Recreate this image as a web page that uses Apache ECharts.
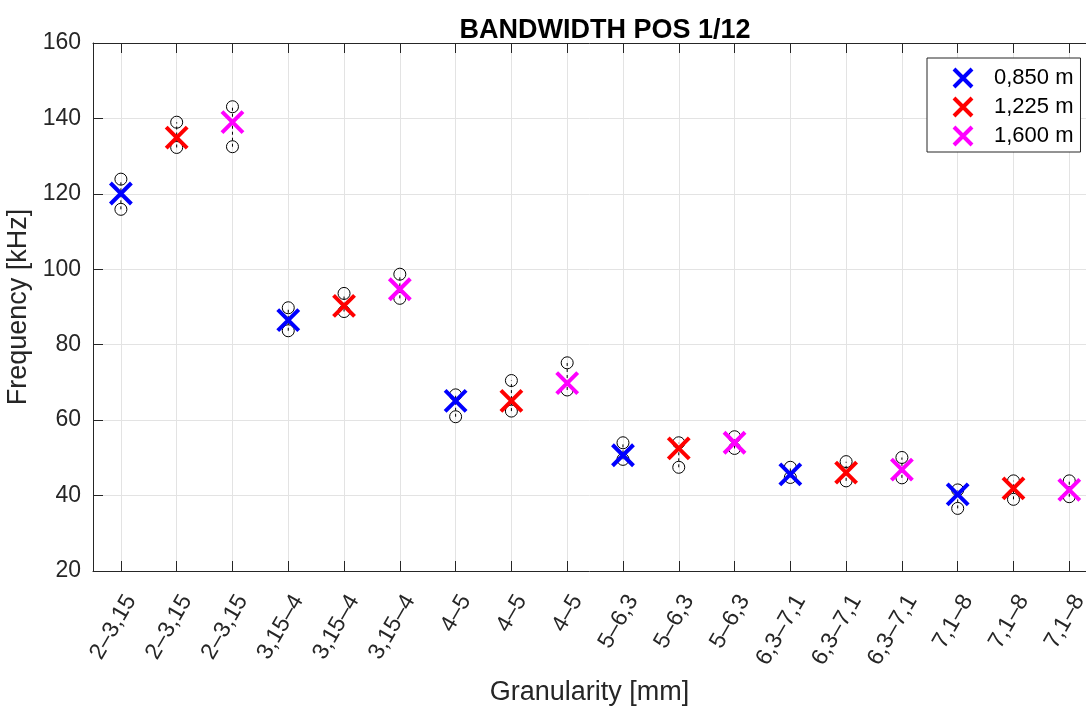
<!DOCTYPE html>
<html>
<head>
<meta charset="utf-8">
<script src="https://cdn.jsdelivr.net/npm/echarts@6/dist/echarts.min.js"></script>
<style>
  html, body { margin: 0; padding: 0; background: #fff; }
  #chart { width: 1086px; height: 710px; }
</style>
</head>
<body>
<div id="chart"></div>
<script>
  "use strict";
  var categories = ['2–3,15', '2–3,15', '2–3,15', '3,15–4', '3,15–4', '3,15–4', '4–5', '4–5', '4–5',
    '5–6,3', '5–6,3', '5–6,3', '6,3–7,1', '6,3–7,1', '6,3–7,1', '7,1–8', '7,1–8', '7,1–8'];
  var distances = ['0,850 m', '1,225 m', '1,600 m'];
  var pointDistance = ['0,850 m', '1,225 m', '1,600 m', '0,850 m', '1,225 m', '1,600 m', '0,850 m', '1,225 m', '1,600 m',
    '0,850 m', '1,225 m', '1,600 m', '0,850 m', '1,225 m', '1,600 m', '0,850 m', '1,225 m', '1,600 m'];
  var meanValues = [120.1, 134.9, 139.0, 86.5, 90.3, 94.7, 65.1, 65.1, 69.8, 50.7, 52.5, 54.0, 45.6, 46.1, 46.9, 40.3, 41.9, 41.5];
  var maxValues = [123.9, 139.0, 143.1, 89.8, 93.6, 98.7, 66.7, 70.5, 75.2, 54.0, 54.0, 55.6, 47.5, 49.0, 50.1, 41.5, 43.9, 43.9];
  var minValues = [115.9, 132.3, 132.5, 83.7, 88.8, 92.3, 60.9, 62.4, 68.0, 49.6, 47.5, 52.5, 44.8, 43.9, 44.7, 36.6, 39.0, 39.7];
  var yTicks = [20, 40, 60, 80, 100, 120, 140, 160];

  var colors = {'0,850 m': '#0000ff', '1,225 m': '#ff0000', '1,600 m': '#ff00ff'};
  var axisColor = '#262626';
  var gridColor = '#e3e3e3';
  var font = 'Liberation Sans, Arial, sans-serif';
  var crossPath = 'path://M0,0L10,10M10,0L0,10';

  var tickPos = categories.map(function (c, i) { return i + 1; });

  var rangeData = categories.map(function (c, i) {
    return [i + 1, minValues[i], maxValues[i]];
  });

  var series = [{
    type: 'custom',
    name: 'range',
    z: 2,
    silent: true,
    data: rangeData,
    renderItem: function (params, api) {
      var lo = api.coord([api.value(0), api.value(1)]);
      var hi = api.coord([api.value(0), api.value(2)]);
      var circleStyle = {fill: 'none', stroke: '#000', lineWidth: 1};
      return {
        type: 'group',
        children: [{
          type: 'line',
          shape: {x1: lo[0], y1: lo[1], x2: hi[0], y2: hi[1]},
          style: {stroke: '#000', lineWidth: 1, lineDash: [3, 3]}
        }, {
          type: 'circle',
          shape: {cx: lo[0], cy: lo[1], r: 6},
          style: circleStyle
        }, {
          type: 'circle',
          shape: {cx: hi[0], cy: hi[1], r: 6},
          style: circleStyle
        }]
      };
    }
  }];

  distances.forEach(function (d) {
    var pts = [];
    categories.forEach(function (c, i) {
      if (pointDistance[i] === d) pts.push([i + 1, meanValues[i]]);
    });
    series.push({
      type: 'scatter',
      name: d,
      z: 3,
      symbol: crossPath,
      symbolSize: 21,
      itemStyle: {color: colors[d], borderColor: colors[d], borderWidth: 4, opacity: 1},
      data: pts
    });
  });

  // the original plot runs past the picture's right edge
  var xAxisBase = {
    type: 'value',
    min: 0.5,
    max: 18.3,
    axisLine: {show: true, onZero: false, lineStyle: {color: axisColor, width: 1}},
    axisTick: {show: true, inside: true, length: 10, customValues: tickPos, lineStyle: {color: axisColor}},
    splitLine: {show: true, lineStyle: {color: gridColor, width: 1}}
  };

  var option = {
    animation: false,
    backgroundColor: '#fff',
    title: {
      text: 'BANDWIDTH POS 1/12',
      left: 600,
      top: 12,
      textAlign: 'center',
      textStyle: {fontFamily: font, fontSize: 27, fontWeight: 'bold', color: '#000'}
    },
    legend: {
      orient: 'vertical',
      left: 927,
      top: 58,
      padding: [9, 7, 5, 25],
      itemGap: 7,
      itemWidth: 18,
      itemHeight: 18,
      backgroundColor: '#fff',
      borderColor: axisColor,
      borderWidth: 1,
      borderRadius: 0,
      itemStyle: {borderWidth: 4},
      data: distances,
      textStyle: {fontFamily: font, fontSize: 22, color: '#000', padding: [0, 0, 0, 17]}
    },
    grid: {left: 93, top: 43, right: 0, bottom: 139, outerBoundsMode: 'none'},
    xAxis: [
      Object.assign({}, xAxisBase, {
        position: 'bottom',
        name: 'Granularity [mm]',
        nameLocation: 'middle',
        nameGap: 108,
        nameTextStyle: {fontFamily: font, fontSize: 27, color: axisColor},
        axisLabel: {
          customValues: tickPos,
          rotate: 60,
          margin: 20,
          verticalAlign: 'top',
          fontFamily: font,
          fontSize: 23,
          color: axisColor,
          formatter: function (v) { return categories[Math.round(v) - 1] || ''; }
        }
      }),
      Object.assign({}, xAxisBase, {
        position: 'top',
        axisLabel: {show: false},
        splitLine: {show: false}
      })
    ],
    yAxis: {
      type: 'value',
      min: yTicks[0],
      max: yTicks[yTicks.length - 1],
      interval: 20,
      name: 'Frequency [kHz]',
      nameLocation: 'middle',
      nameGap: 59,
      nameTextStyle: {fontFamily: font, fontSize: 27, color: axisColor},
      axisLine: {show: true, lineStyle: {color: axisColor, width: 1}},
      axisTick: {show: true, inside: true, length: 10, lineStyle: {color: axisColor}},
      axisLabel: {fontFamily: font, fontSize: 23, color: axisColor, margin: 12},
      splitLine: {show: true, lineStyle: {color: gridColor, width: 1}}
    },
    series: series
  };

  var chart = echarts.init(document.getElementById('chart'));
  chart.setOption(option);
</script>
</body>
</html>
